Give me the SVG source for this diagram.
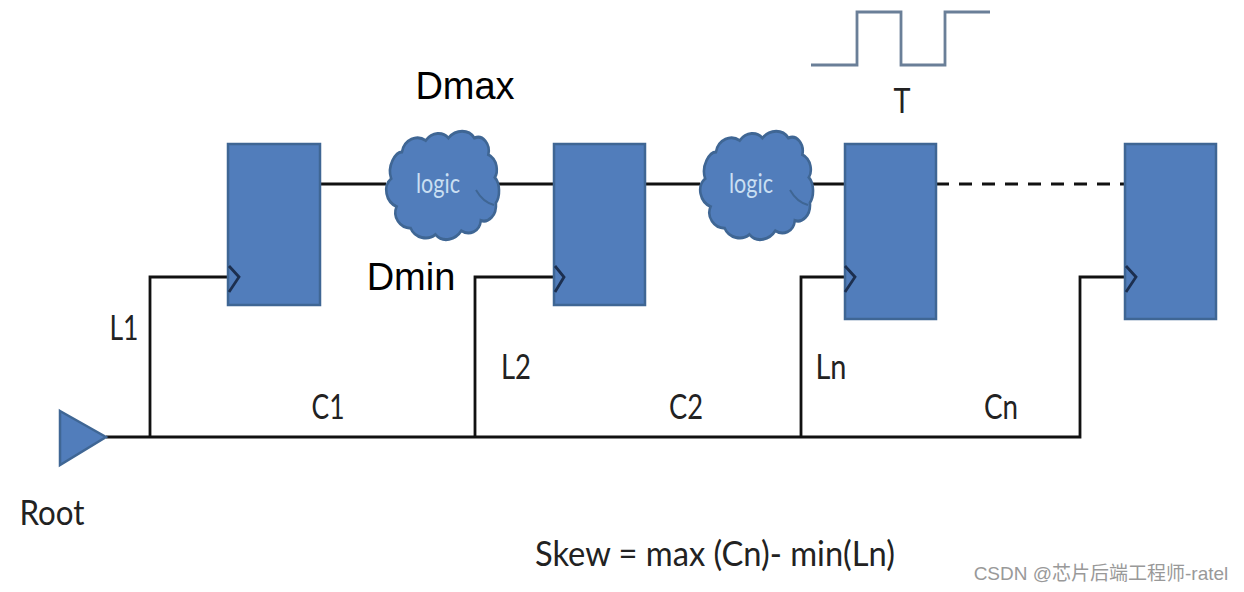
<svg xmlns="http://www.w3.org/2000/svg" width="1244" height="592" viewBox="0 0 1244 592">
<style>
.ff{fill:#517dbb;stroke:#3f6694;stroke-width:2.5}
.w{fill:none;stroke:#111;stroke-width:2.8}
.ck{fill:none;stroke:#1c2f4f;stroke-width:2.8}
.t{font-family:Lato,"Open Sans",sans-serif;fill:#222;font-size:35px;text-anchor:middle}
.k{font-family:"Liberation Sans",Arial,sans-serif;fill:#000;font-size:38px;text-anchor:middle}
.lg{font-family:Lato,"Open Sans",sans-serif;fill:#c9dff2;font-size:26px;text-anchor:middle}
.cl{fill:#517dbb;stroke:#3f6694;stroke-width:2.4}
</style>
<defs>
<path id="cloud" d="M-38 -26C-36 -36 -24 -40 -16 -35C-10 -42 0 -42 5 -37C12 -44 24 -44 29 -37C37 -40 44 -32 42 -24C51 -20 51 -10 48 -6C53 -1 53 9 49 14C50 24 42 30 35 28C34 37 24 40 17 36C12 43 0 46 -7 39C-14 44 -26 42 -30 34C-40 34 -47 25 -43 17C-53 13 -56 1 -48 -5C-52 -15 -44 -26 -38 -26Z"/>
</defs>
<rect width="1244" height="592" fill="#fff"/>
<g id="connectors">
<path class="w" d="M106 437H1080V277H1126"/>
<path class="w" d="M150 437V277H229"/>
<path class="w" d="M475 437V277H555"/>
<path class="w" d="M801 437V277H845"/>
<path class="w" d="M320 184H386M498 184H554M645 184H700M812 184H845"/>
<path class="w" d="M936 184H1125" stroke-dasharray="13 10"/>
</g>
<g id="ff1"><rect class="ff" x="228" y="144" width="92" height="161"/><path class="ck" d="M229 266L239 277L229 292"/></g>
<g id="ff2"><rect class="ff" x="554" y="144" width="91" height="161"/><path class="ck" d="M555 266L564 277L555 292"/></g>
<g id="ff3"><rect class="ff" x="845" y="144" width="91" height="175"/><path class="ck" d="M845 266L855 277L845 292"/></g>
<g id="ff4"><rect class="ff" x="1125" y="144" width="91" height="175"/><path class="ck" d="M1126 266L1136 277L1126 292"/></g>
<g id="logic1"><use href="#cloud" class="cl" transform="translate(443 185) scale(1.08 1.27)"/><path fill="none" stroke="#3f6694" stroke-width="2" d="M476 190C480 197 486 203 494 205"/><text class="lg" x="438" y="193" textLength="44" lengthAdjust="spacingAndGlyphs">logic</text></g>
<g id="logic2"><use href="#cloud" class="cl" transform="translate(757 185) scale(1.08 1.27)"/><path fill="none" stroke="#3f6694" stroke-width="2" d="M790 190C794 197 800 203 808 205"/><text class="lg" x="751" y="193" textLength="44" lengthAdjust="spacingAndGlyphs">logic</text></g>
<g id="root"><path class="ff" d="M60 411L106 437L60 465Z"/><text class="t" x="52" y="525" textLength="65" lengthAdjust="spacingAndGlyphs">Root</text></g>
<g id="clock"><path fill="none" stroke="#6a7f98" stroke-width="2.8" d="M811 65H857V12H901V65H945V12H990"/><text class="t" x="902" y="113" textLength="17" lengthAdjust="spacingAndGlyphs">T</text></g>
<g id="labels">
<text class="k" x="465" y="99">Dmax</text>
<text class="k" x="411" y="290">Dmin</text>
<text class="t" x="124" y="340" textLength="29" lengthAdjust="spacingAndGlyphs">L1</text>
<text class="t" x="516" y="379" textLength="30" lengthAdjust="spacingAndGlyphs">L2</text>
<text class="t" x="831" y="379" textLength="31" lengthAdjust="spacingAndGlyphs">Ln</text>
<text class="t" x="328" y="419" textLength="33" lengthAdjust="spacingAndGlyphs">C1</text>
<text class="t" x="686" y="419" textLength="34" lengthAdjust="spacingAndGlyphs">C2</text>
<text class="t" x="1001" y="419" textLength="34" lengthAdjust="spacingAndGlyphs">Cn</text>
<text class="t" x="715" y="566" textLength="360" lengthAdjust="spacingAndGlyphs">Skew = max (Cn)- min(Ln)</text>
<text x="1101" y="580" font-family="'Liberation Sans','Noto Sans CJK SC',sans-serif" font-size="19" fill="#999" text-anchor="middle">CSDN @芯片后端工程师-ratel</text>
</g>
</svg>
